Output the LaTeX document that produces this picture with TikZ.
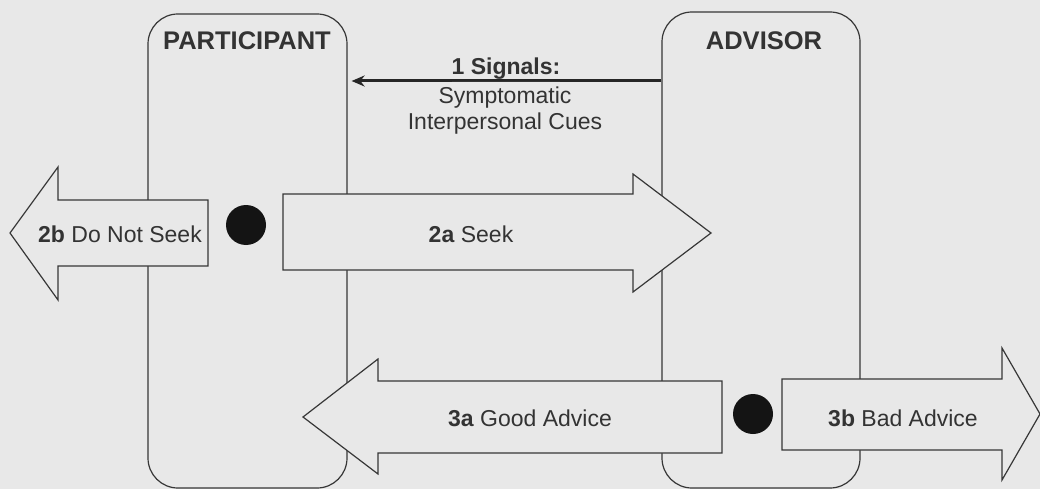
\documentclass[tikz,border=0pt]{standalone}
\usepackage{fontspec}
\setmainfont{Liberation Sans}
\usetikzlibrary{arrows.meta}
\definecolor{bgc}{RGB}{232,232,232}
\definecolor{inkc}{RGB}{55,55,55}
\definecolor{dotc}{RGB}{20,20,20}
\begin{document}
\begin{tikzpicture}[x=1pt,y=-1pt,
  lane/.style={draw=inkc, line width=1.2pt, rounded corners=30pt, inner sep=0pt},
  lanetitle/.style={font=\fontsize{25.5}{28}\selectfont\bfseries, text=black!80, inner sep=0pt},
  blockarrow/.style={draw=inkc, fill=bgc, line width=1.2pt, line join=miter},
  arrowtext/.style={font=\fontsize{23}{27}\selectfont, text=black!80, inner sep=0pt},
  choice/.style={circle, fill=dotc, minimum size=40pt, inner sep=0pt},
  signal/.style={draw=black!85, line width=3pt, -{Stealth[length=13pt,width=11pt]}}]

% canvas
\fill[bgc] (0,0) rectangle (1040,489);
\useasboundingbox (0,0) rectangle (1040,489);

% the two swim lanes
\node[lane, minimum width=199pt, minimum height=474pt] (participant) at (247.5,251) {};
\node[lane, minimum width=198pt, minimum height=476pt] (advisor) at (761,250) {};
\node[lanetitle] (ptitle) at (247,41) {PARTICIPANT};
\node[lanetitle] (atitle) at (764,41) {ADVISOR};

% step 1: signal from advisor to participant
\coordinate (sigy) at (0,81);
\draw[signal] (advisor.west |- sigy) -- ([xshift=4pt]participant.east |- sigy);
\node[arrowtext, anchor=base] (sigtitle) at (506,75) {\underline{\textbf{1 Signals:}}};
\node[arrowtext, align=center, anchor=north] (sigtext) at (505,87)
  {Symptomatic\\[-1.5pt]Interpersonal Cues};

% step 2: do not seek / seek
\path[blockarrow] (10,233) -- (58,167) -- (58,200) -- (208,200) -- (208,266)
  -- (58,266) -- (58,300) -- cycle;
\path[blockarrow] (283,194) -- (633,194) -- (633,174) -- (711,233) -- (633,292)
  -- (633,270) -- (283,270) -- cycle;
\node[choice] (dot1) at (246,225) {};
\node[arrowtext] (donotseek) at (120,234) {\textbf{2b} Do Not Seek};
\node[arrowtext] (seek) at (471,234) {\textbf{2a} Seek};

% step 3: good advice / bad advice
\path[blockarrow] (303,417) -- (378,359) -- (378,381) -- (722,381) -- (722,453)
  -- (378,453) -- (378,474) -- cycle;
\path[blockarrow] (782,379) -- (1002,379) -- (1002,348) -- (1040,414) -- (1002,480)
  -- (1002,450) -- (782,450) -- cycle;
\node[choice] (dot2) at (753,414) {};
\node[arrowtext] (good) at (530,418) {\textbf{3a} Good Advice};
\node[arrowtext] (bad) at (903,418) {\textbf{3b} Bad Advice};
\end{tikzpicture}
\end{document}
